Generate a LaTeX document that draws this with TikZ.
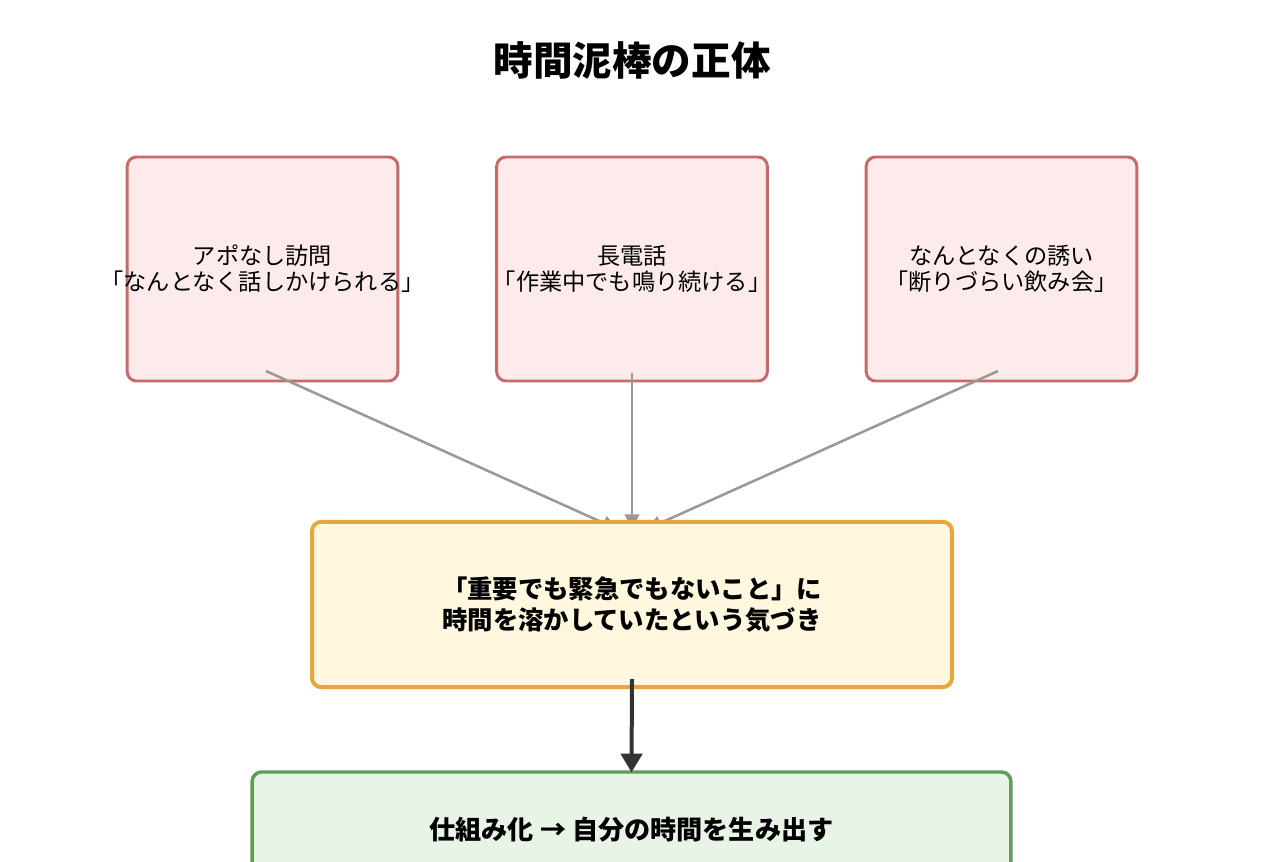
\documentclass[tikz,border=0pt]{standalone}
\usepackage{fontspec}
\setmainfont{Noto Sans CJK JP}
\usetikzlibrary{arrows.meta}
\definecolor{redline}{HTML}{C46A6A}
\definecolor{redfill}{HTML}{FDEBEB}
\definecolor{yelline}{HTML}{E8A63E}
\definecolor{yelfill}{HTML}{FFF7DE}
\definecolor{grnline}{HTML}{5E9E58}
\definecolor{grnfill}{HTML}{E8F4E6}
\definecolor{grayarrow}{HTML}{999999}
\definecolor{darkarrow}{HTML}{333333}
\tikzset{
  redbox/.style={draw=redline, fill=redfill, line width=2.2pt, rounded corners=7pt,
    minimum width=203pt, minimum height=168pt, inner sep=0pt},
  redtext/.style={align=center, inner sep=0pt,
    font=\fontsize{17.4}{19.5}\selectfont},
  yelbox/.style={draw=yelline, fill=yelfill, line width=3pt, rounded corners=7pt,
    minimum width=480pt, minimum height=124pt, inner sep=0pt, align=center,
    font=\bfseries\fontsize{19}{23.5}\selectfont},
  grnbox/.style={draw=grnline, fill=grnfill, line width=2.6pt, rounded corners=7pt,
    minimum width=569pt, minimum height=87pt, inner sep=0pt, align=center,
    font=\bfseries\fontsize{19.6}{23.5}\selectfont},
  grayarr/.style={draw=grayarrow, line width=1.9pt, -{Triangle[length=11pt,width=11pt]}},
  darkarr/.style={draw=darkarrow, line width=3pt, -{Triangle[length=14pt,width=16pt]}},
  titlestyle/.style={font=\bfseries\fontsize{29.7}{34}\selectfont, inner sep=0pt}
}
\begin{document}
\begin{tikzpicture}[x=0.75pt, y=-0.75pt]
\clip (0,0) rectangle (1264,861);
\fill[white] (0,0) rectangle (1264,861);
\node[titlestyle] (title) at (632,61) {時間泥棒の正体};
\node[redbox] (r1) at (262.5,269) {};
\node[redbox] (r2) at (632,269) {};
\node[redbox] (r3) at (1001.5,269) {};
\node[redtext] (t1) at (r1.center) {アポなし訪問\\「なんとなく話しかけられる」};
\node[redtext] (t2) at (r2.center) {長電話\\「作業中でも鳴り続ける」};
\node[redtext] (t3) at (r3.center) {なんとなくの誘い\\「断りづらい飲み会」};
\coordinate (s1) at (266,371);
\coordinate (s2) at (632,373);
\coordinate (s3) at (998,371);
\coordinate (e1) at (617,529);
\coordinate (e2) at (632,529);
\coordinate (e3) at (647,529);
\draw[grayarr] (s1) -- (e1);
\draw[grayarr] (s2) -- (e2);
\draw[grayarr] (s3) -- (e3);
\node[yelbox] (y) at (632,604.5) {「重要でも緊急でもないこと」に\\時間を溶かしていたという気づき};
\coordinate (d1) at (632,679);
\node[grnbox] (g) at (631.5,830) {仕組み化 → 自分の時間を生み出す};
\draw[darkarr] (d1) -- ([yshift=-1.5pt]g.north);
\end{tikzpicture}
\end{document}
